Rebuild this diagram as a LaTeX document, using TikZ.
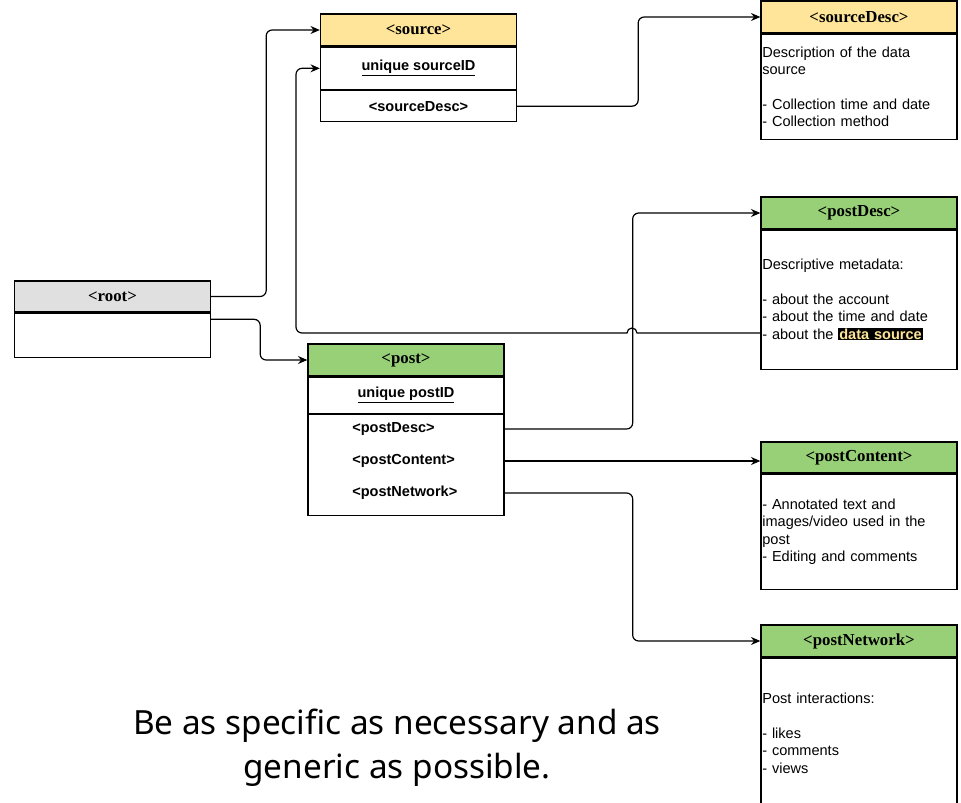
\documentclass[tikz,border=0pt]{standalone}
\usepackage{fontspec}
\setmainfont{Liberation Serif}
\setsansfont{Liberation Sans}
\newfontfamily\mottofont{Noto Sans}
\usetikzlibrary{arrows.meta}

\definecolor{srcyellow}{HTML}{FFE599}
\definecolor{postgreen}{HTML}{97D077}
\definecolor{rootgray}{HTML}{E0E0E0}

\tikzset{
  tbl/.style={draw, line width=1pt, minimum width=147pt, inner sep=0pt},
  hdr/.style={tbl, minimum height=24pt, font=\bfseries\fontsize{12.6}{14}\selectfont},
  row/.style={tbl, anchor=north, font=\sffamily\bfseries\fontsize{10.9}{13}\selectfont},
  rowtext/.style={anchor=west, inner sep=0pt, font=\sffamily\bfseries\fontsize{10.9}{13}\selectfont},
  desc/.style={tbl, anchor=north, text width=145pt, inner xsep=1pt, align=left, font=\sffamily\fontsize{10.9}{13}\selectfont},
  conn/.style={line width=0.9pt, rounded corners=4.5pt, -{Stealth[length=7pt,width=6pt]}},
}

\begin{document}
\begin{tikzpicture}[x=0.75pt, y=-0.75pt]
  \clip (0,0) rectangle (961,803);

  % source
  \node[hdr, fill=srcyellow] (srchead) at (418.5,30) {<source>};
  \node[row, minimum height=31.5pt] (srcid) at (srchead.south) {\underline{unique sourceID}};
  \node[row, minimum height=23.25pt] (srcdrow) at (srcid.south) {<sourceDesc>};

  % root
  \node[hdr, fill=rootgray, minimum height=23.25pt] (roothead) at (112.5,296.5) {<root>};
  \node[row, minimum height=33pt] (rootbody) at (roothead.south) {};

  % post
  \node[hdr, fill=postgreen] (posthead) at (406,360) {<post>};
  \node[row, minimum height=27pt] (postid) at (posthead.south) {\underline{unique postID}};
  \node[row, minimum height=75.75pt] (postbody) at (postid.south) {};
  \node[rowtext] (pdesc) at (352,429) {<postDesc>};
  \node[rowtext] (pcont) at (352,461) {<postContent>};
  \node[rowtext] (pnet) at (352,493) {<postNetwork>};

  % descriptions
  \node[hdr, fill=srcyellow] (sdhead) at (859,17) {<sourceDesc>};
  \node[desc, minimum height=78.75pt] (sdbody) at (sdhead.south)
    {Description of the data\\source\\[13pt]- Collection time and date\\- Collection method};

  \node[hdr, fill=postgreen] (pdhead) at (859,213) {<postDesc>};
  \node[desc, minimum height=104.25pt] (pdbody) at (pdhead.south)
    {Descriptive metadata:\\[13pt]- about the account\\- about the time and date\\- about the {\setlength{\fboxsep}{0.8pt}\colorbox{black}{\textcolor{srcyellow}{\bfseries data source}}}};

  \node[hdr, fill=postgreen, minimum height=23.25pt] (pchead) at (859,457.5) {<postContent>};
  \node[desc, minimum height=86.25pt] (pcbody) at (pchead.south)
    {- Annotated text and\\images/video used in the\\post\\- Editing and comments};

  \node[hdr, fill=postgreen] (pnhead) at (859,641) {<postNetwork>};
  \node[desc, minimum height=112.5pt] (pnbody) at (pnhead.south)
    {Post interactions:\\[13pt]- likes\\- comments\\- views};

  % connectors
  \draw[conn] (roothead.east) -- ++(55,0) |- (srchead.west);
  \draw[conn] ([yshift=-5pt]rootbody.north east) -- ++(49,0) |- (posthead.west);
  \draw[conn] (srcdrow.east) -- ++(121,0) |- (sdhead.west);
  \draw[conn] (pdesc -| postbody.east) -- ++(128,0) |- (pdhead.west);
  \draw[conn] (pcont -| postbody.east) -- (pcont -| pchead.west);
  \draw[conn] (pnet -| postbody.east) -- ++(128,0) |- (pnhead.west);
  \coordinate (dsrc) at (761,333);
  \draw[conn, sharp corners] (dsrc) -- ++(-124,0) arc[start angle=0, end angle=-180, radius=5]
    [rounded corners=4.5pt] -- ++(-331,0) |- (srcid.west);

  \node[font=\mottofont\fontsize{25}{33}\selectfont, align=center] (motto) at (397,748)
    {Be as specific as necessary and as\\generic as possible.};
\end{tikzpicture}
\end{document}
